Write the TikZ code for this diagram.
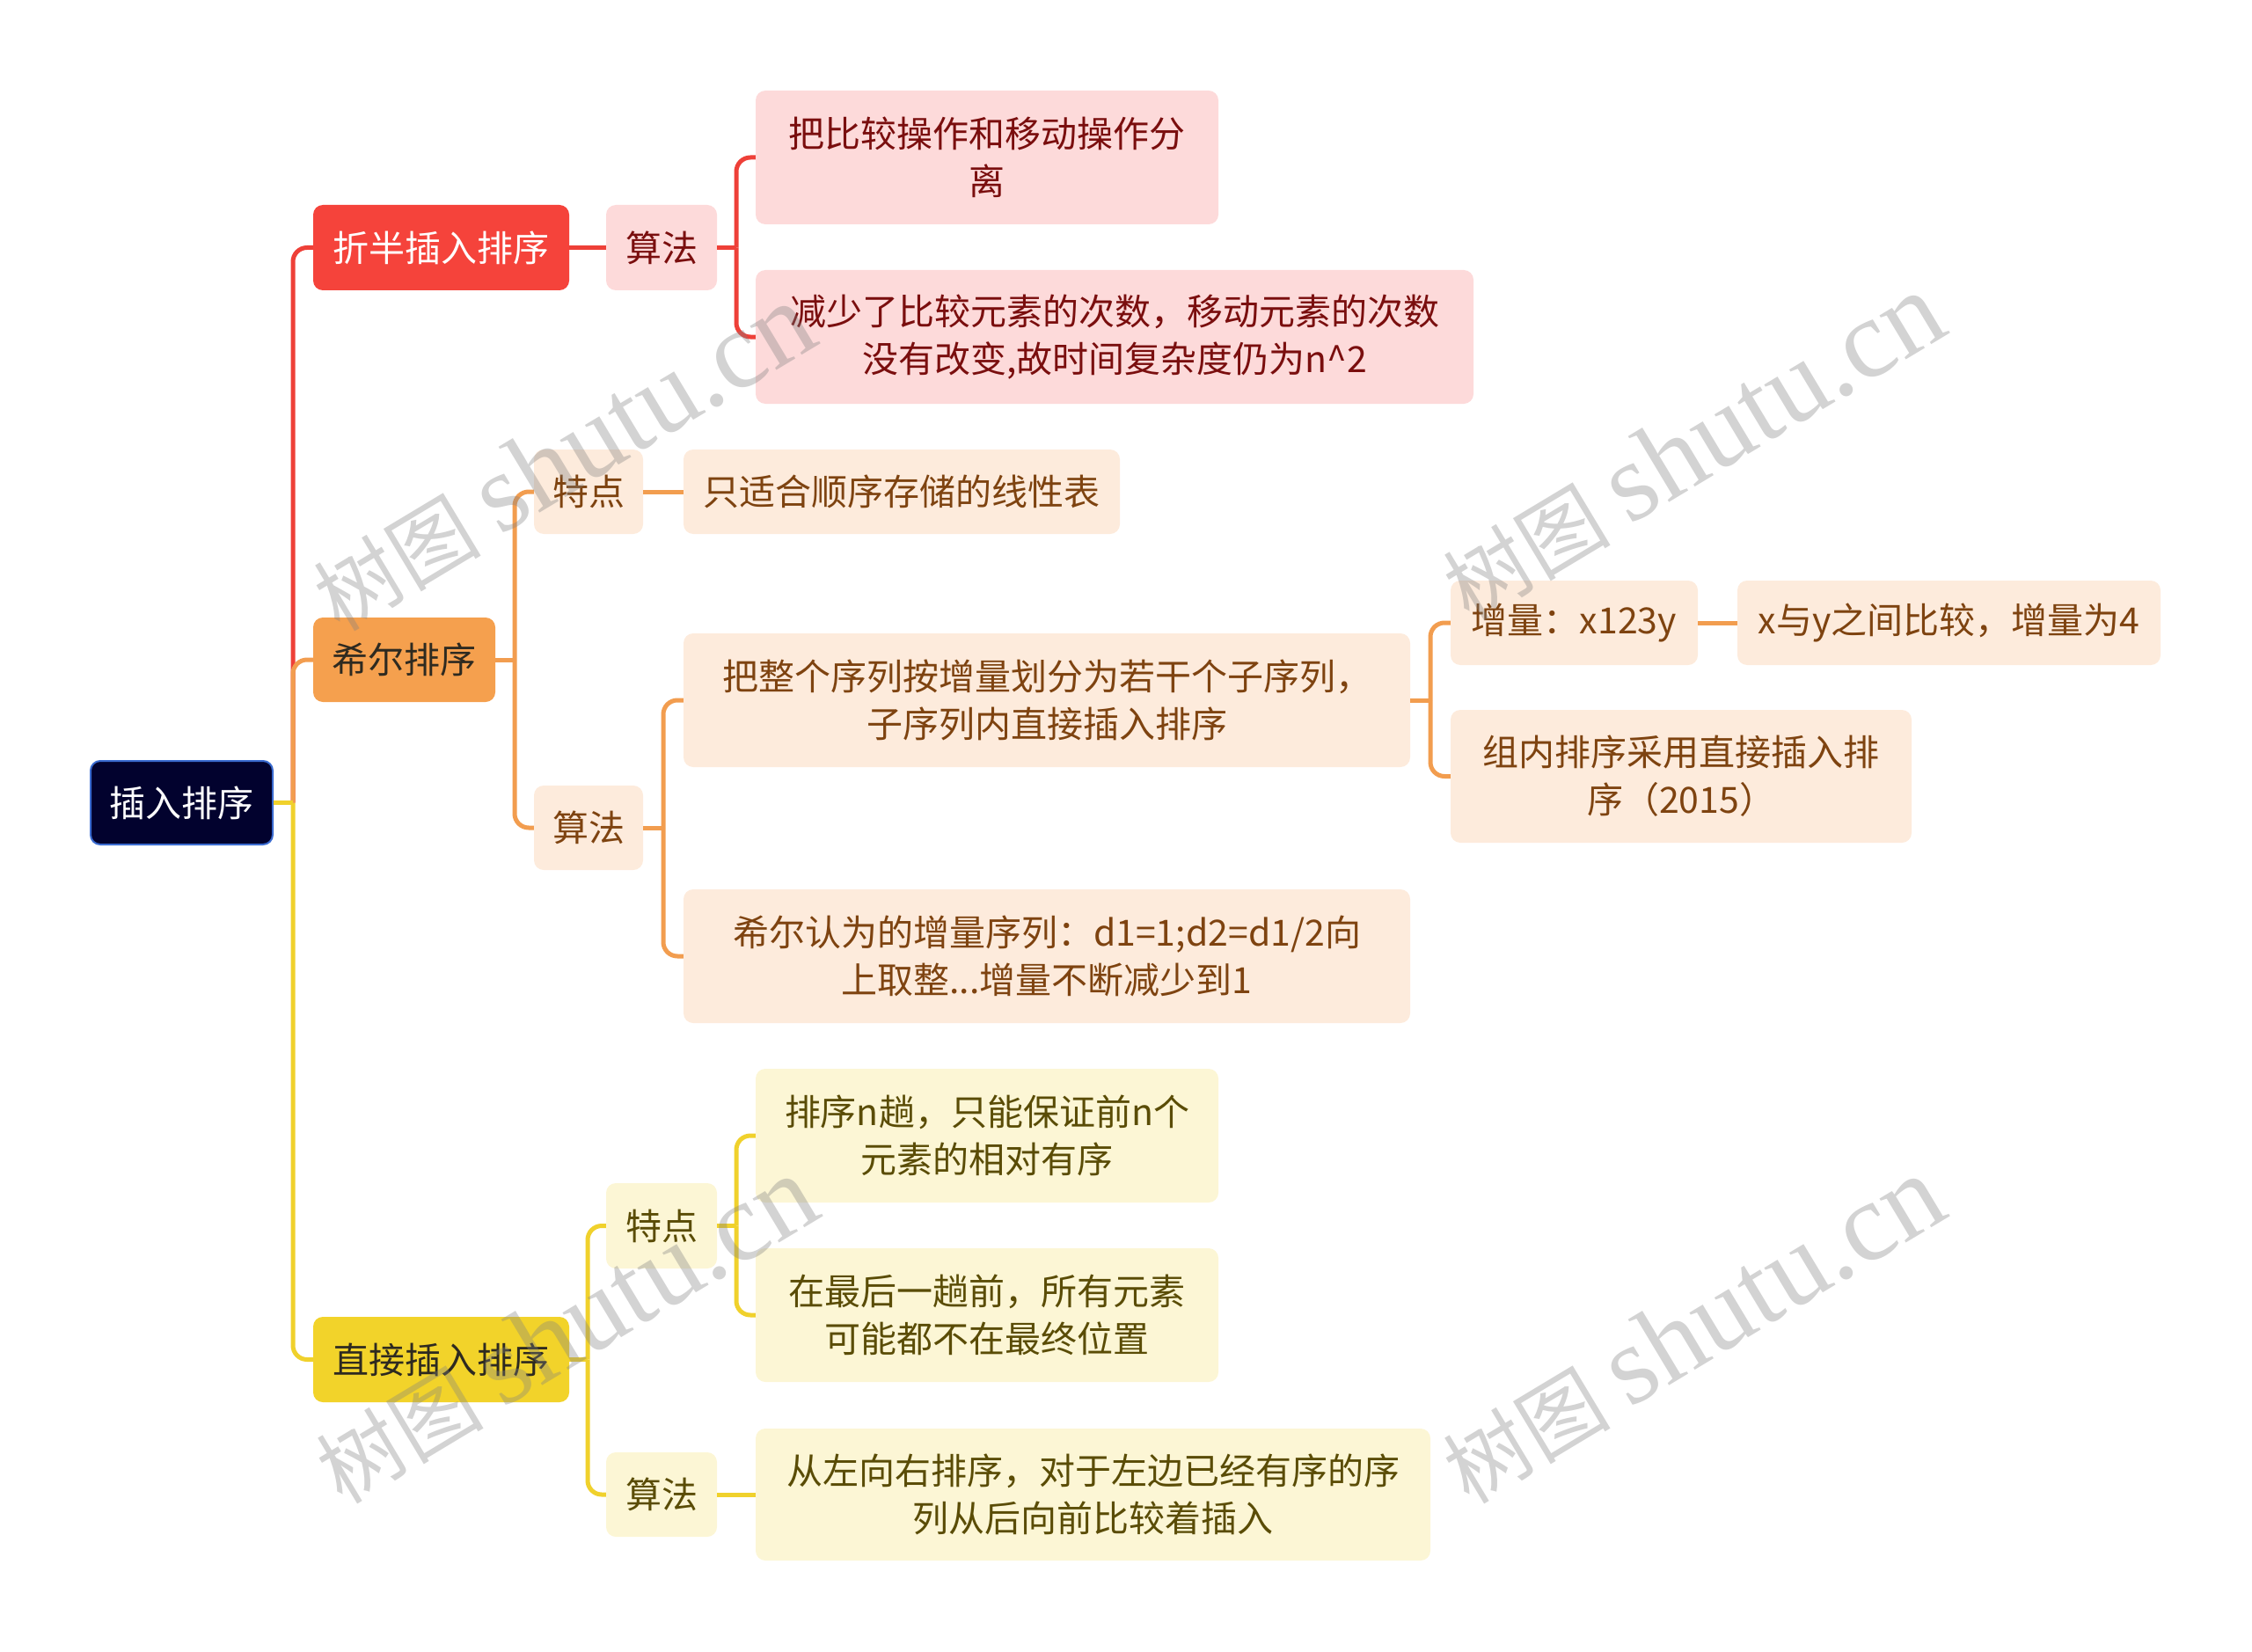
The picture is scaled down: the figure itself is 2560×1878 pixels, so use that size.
\documentclass[tikz,border=0pt]{standalone}
\usepackage{fontspec}
\setmainfont{Noto Sans CJK SC}
\newfontfamily\wmlatin{Liberation Serif}
\definecolor{cRed}{HTML}{F5433B}
\definecolor{cRedLine}{HTML}{EE4038}
\definecolor{cPink}{HTML}{FDDADA}
\definecolor{cRedText}{HTML}{7A0E0E}
\definecolor{cOrg}{HTML}{F5A04E}
\definecolor{cOrgLine}{HTML}{F29D4F}
\definecolor{cOrgLeaf}{HTML}{FDEBDC}
\definecolor{cBrown}{HTML}{7E4310}
\definecolor{cYel}{HTML}{F2D32A}
\definecolor{cYelLine}{HTML}{F0D12C}
\definecolor{cYelLeaf}{HTML}{FCF6D5}
\definecolor{cOlive}{HTML}{5A4C06}
\definecolor{cDark}{HTML}{2E2A20}
\definecolor{cNavy}{HTML}{02022E}
\definecolor{cBlue}{HTML}{3A6BD0}
\begin{document}
\begin{tikzpicture}[x=1pt,y=-1pt,
  box/.style={rounded corners=11pt, inner sep=0pt, align=center,
    font=\fontsize{41}{54}\selectfont},
  sz/.style 2 args={minimum width=#1pt, minimum height=#2pt},
  rootbox/.style={box, fill=cNavy, draw=cBlue, line width=2pt, text=white},
  redmain/.style={box, fill=cRed, text=white},
  redleaf/.style={box, fill=cPink, text=cRedText},
  orgmain/.style={box, fill=cOrg, text=cDark},
  orgleaf/.style={box, fill=cOrgLeaf, text=cBrown},
  ylwmain/.style={box, fill=cYel, text=cDark},
  ylwleaf/.style={box, fill=cYelLeaf, text=cOlive},
  redline/.style={draw=cRedLine, line width=5pt},
  orgline/.style={draw=cOrgLine, line width=5pt},
  ylwline/.style={draw=cYelLine, line width=5pt},
  elbow/.style={rounded corners=16pt},
  wm/.style={rotate=31, text=gray, text opacity=0.35, inner sep=0pt}
]
\useasboundingbox (0,0) rectangle (2560,1878);

% root
\node[rootbox, sz={207}{95}] (root) at (206.5,912.5) {插入排序};

% red branch
\node[redmain, sz={291}{97}] (zb) at (501.5,281.5) {折半插入排序};
\node[redleaf, sz={126}{97}] (zbalg) at (752,281.5) {算法};
\node[redleaf, sz={526}{152}] (zbl1) at (1122,179) {把比较操作和移动操作分\\离};
\node[redleaf, sz={816}{152}] (zbl2) at (1267,383) {减少了比较元素的次数，移动元素的次数\\没有改变,故时间复杂度仍为n\textasciicircum{}2};

% orange branch
\node[orgmain, sz={207}{96}] (xe) at (459.5,750) {希尔排序};
\node[orgleaf, sz={124}{96}] (xetd) at (669,559) {特点};
\node[orgleaf, sz={496}{96}] (xetdl) at (1025,559) {只适合顺序存储的线性表};
\node[orgleaf, sz={124}{96}] (xealg) at (669,941) {算法};
\node[orgleaf, sz={826}{152}] (xa1) at (1190,796) {把整个序列按增量划分为若干个子序列，\\子序列内直接插入排序};
\node[orgleaf, sz={826}{152}] (xa2) at (1190,1087) {希尔认为的增量序列：d1=1;d2=d1/2向\\上取整...增量不断减少到1};
\node[orgleaf, sz={281}{96}] (zl) at (1789.5,708) {增量：x123y};
\node[orgleaf, sz={481}{96}] (zll) at (2215.5,708) {x与y之间比较，增量为4};
\node[orgleaf, sz={524}{151}] (zn) at (1911,882.5) {组内排序采用直接插入排\\序（2015）};

% yellow branch
\node[ylwmain, sz={291}{97}] (zj) at (501.5,1545.5) {直接插入排序};
\node[ylwleaf, sz={126}{97}] (zjtd) at (752,1393.5) {特点};
\node[ylwleaf, sz={526}{152}] (zjt1) at (1122,1291) {排序n趟，只能保证前n个\\元素的相对有序};
\node[ylwleaf, sz={526}{152}] (zjt2) at (1122,1495) {在最后一趟前，所有元素\\可能都不在最终位置};
\node[ylwleaf, sz={126}{96}] (zjalg) at (752,1699) {算法};
\node[ylwleaf, sz={767}{150}] (zja) at (1242.5,1699) {从左向右排序，对于左边已经有序的序\\列从后向前比较着插入};

% bus coordinates
\coordinate (b0) at (333,912.5);
\coordinate (b1) at (837,281.5);
\coordinate (b2) at (585,750);
\coordinate (b3) at (754,941);
\coordinate (b4) at (1626,796);
\coordinate (b5) at (668,1545.5);
\coordinate (b6) at (837,1393.5);

% red connectors
\draw[redline] (root.east) -- (b0);
\draw[redline, elbow] (b0) -- (b0 |- zb.west) -- (zb.west);
\draw[redline] (zb.east) -- (zbalg.west);
\draw[redline] (zbalg.east) -- (b1);
\draw[redline, elbow] (b1) -- (b1 |- zbl1.west) -- (zbl1.west);
\draw[redline, elbow] (b1) -- (b1 |- zbl2.west) -- (zbl2.west);

% orange connectors
\draw[orgline] (root.east) -- (b0);
\draw[orgline, elbow] (b0) -- (b0 |- xe.west) -- (xe.west);
\draw[orgline] (xe.east) -- (b2);
\draw[orgline, elbow] (b2) -- (b2 |- xetd.west) -- (xetd.west);
\draw[orgline, elbow] (b2) -- (b2 |- xealg.west) -- (xealg.west);
\draw[orgline] (xetd.east) -- (xetdl.west);
\draw[orgline] (xealg.east) -- (b3);
\draw[orgline, elbow] (b3) -- (b3 |- xa1.west) -- (xa1.west);
\draw[orgline, elbow] (b3) -- (b3 |- xa2.west) -- (xa2.west);
\draw[orgline] (xa1.east) -- (b4);
\draw[orgline, elbow] (b4) -- (b4 |- zl.west) -- (zl.west);
\draw[orgline, elbow] (b4) -- (b4 |- zn.west) -- (zn.west);
\draw[orgline] (zl.east) -- (zll.west);

% yellow connectors
\draw[ylwline] (root.east) -- (b0);
\draw[ylwline, elbow] (b0) -- (b0 |- zj.west) -- (zj.west);
\draw[ylwline] (zj.east) -- (b5);
\draw[ylwline, elbow] (b5) -- (b5 |- zjtd.west) -- (zjtd.west);
\draw[ylwline, elbow] (b5) -- (b5 |- zjalg.west) -- (zjalg.west);
\draw[ylwline] (zjtd.east) -- (b6);
\draw[ylwline, elbow] (b6) -- (b6 |- zjt1.west) -- (zjt1.west);
\draw[ylwline, elbow] (b6) -- (b6 |- zjt2.west) -- (zjt2.west);
\draw[ylwline] (zjalg.east) -- (zja.west);

% watermarks
\foreach \n/\px/\py in {wa/640/520, wb/1924/508, wc/643/1512, wd/1924/1512} {
  \node[wm] (\n) at (\px,\py) {\fontsize{95}{95}\selectfont 树图\hspace{22pt}{\wmlatin\fontsize{127}{127}\selectfont shutu.cn}};
}
\end{tikzpicture}
\end{document}
